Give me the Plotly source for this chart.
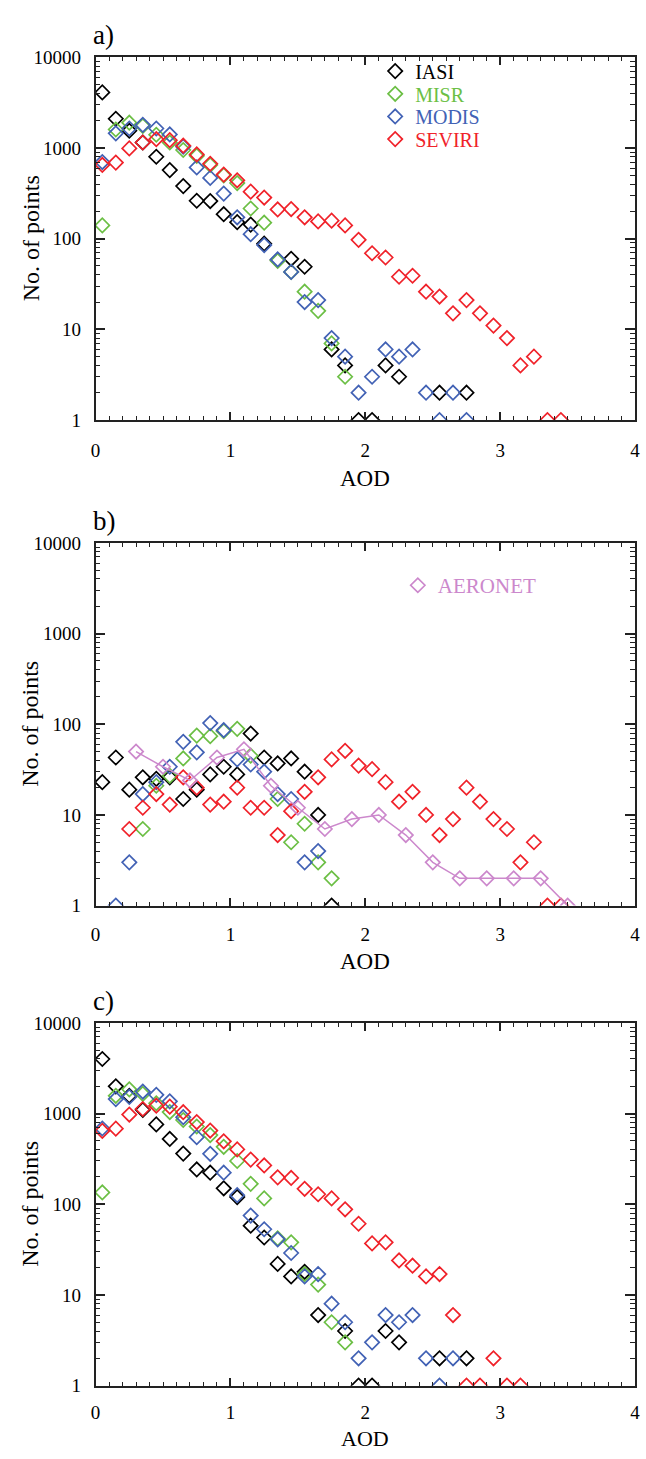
import plotly.graph_objects as go

# ---------------- data ----------------
AOD_BINS = [0.05, 0.15, 0.25, 0.35, 0.45, 0.55, 0.65, 0.75, 0.85, 0.95,
            1.05, 1.15, 1.25, 1.35, 1.45, 1.55, 1.65, 1.75, 1.85, 1.95,
            2.05, 2.15, 2.25, 2.35, 2.45, 2.55, 2.65, 2.75, 2.85, 2.95,
            3.05, 3.15, 3.25, 3.35, 3.45]
N = None

# panel a)
a_iasi = [4100, 2100, 1550, 1150, 800, 570, 380, 262, 260, 186,
          152, 143, 88, 58, 60, 49, N, 6, 4, 1,
          1, 4, 3, N, N, 2, N, 2, N, N, N, N, N, N, N]
a_misr = [140, 1600, 1900, 1750, 1400, 1150, 950, 820, 650, 500,
          410, 215, 150, 57, 43, 26, 16, 7, 3, N,
          N, N, N, N, N, N, N, N, N, N, N, N, N, N, N]
a_modis = [700, 1450, 1640, 1800, 1640, 1410, 1035, 610, 468, 314,
           172, 112, 85, 59, 43, 20, 21, 8, 5, 2,
           3, 6, 5, 6, 2, 1, 2, 1, N, N, N, N, N, N, N]
a_seviri = [650, 690, 990, 1150, 1250, 1220, 1060, 850, 670, 509,
            440, 330, 284, 210, 212, 172, 155, 158, 140, 97,
            69, 62, 38, 39, 26, 23, 15, 21, 15, 11,
            8, 4, 5, 1, 1]

# panel b)
b_iasi = [23, 43, 19, 26, 25, 26, 15, 19, 28, 34,
          28, 79, 43, 37, 42, 30, 10, 1, N, N,
          N, N, N, N, N, N, N, N, N, N, N, N, N, N, N]
b_misr = [N, N, N, 7, 21, 27, 42, 75, 74, 84,
          89, 45, N, 15, 5, 8, 3, 2, N, N,
          N, N, N, N, N, N, N, N, N, N, N, N, N, N, N]
b_modis = [N, 1, 3, 17, 23, 34, 64, 49, 103, 86,
           41, 36, 30, 17, 15, 3, 4, N, N, N,
           N, N, N, N, N, N, N, N, N, N, N, N, N, N, N]
b_seviri = [N, N, 7, 12, 17, 13, 26, 20, 13, 14,
            20, 12, 12, 6, 11, 18, 26, 41, 51, 35,
            32, 23, 14, 18, 10, 6, 9, 20, 14, 9,
            7, 3, 5, 1, 1]
aeronet_x = [0.3, 0.5, 0.7, 0.9, 1.1, 1.3, 1.5, 1.7, 1.9, 2.1,
             2.3, 2.5, 2.7, 2.9, 3.1, 3.3, 3.5]
aeronet_y = [50, 34, 24, 43, 53, 21, 12, 7, 9, 10,
             6, 3, 2, 2, 2, 2, 1]

# panel c)
c_iasi = [4000, 2000, 1570, 1100, 760, 525, 362, 242, 223, 150,
          120, 58, 43, 22, 16, 18, 6, N, 4, 1,
          1, 4, 3, N, N, 2, N, 2, N, N, N, N, N, N, N]
c_misr = [135, 1570, 1850, 1650, 1300, 1040, 850, 720, 580, 430,
          300, 168, 116, 42, 38, 17, 13, 5, 3, N,
          N, N, N, N, N, N, N, N, N, N, N, N, N, N, N]
c_modis = [685, 1445, 1530, 1750, 1610, 1365, 914, 550, 360, 223,
           126, 75, 53, 41, 29, 16, 17, 8, 5, 2,
           3, 6, 5, 6, 2, 1, 2, N, N, N, N, N, N, N, N]
c_seviri = [644, 682, 976, 1124, 1222, 1192, 1036, 807, 650, 495,
            403, 311, 268, 198, 195, 148, 129, 116, 88, 61,
            37, 38, 24, 21, 16, 17, 6, 1, 1, 2,
            1, 1, N, N, N]

SERIES_NAMES = ["IASI", "MISR", "MODIS", "SEVIRI"]
AERONET_NAME = "AERONET"
PANEL_LABELS = ["a)", "b)", "c)"]
X_TITLE = "AOD"
Y_TITLE = "No. of points"
X_TICKS = [0, 1, 2, 3, 4]
X_TICK_LABELS = ["0", "1", "2", "3", "4"]
Y_TICKS = [1, 10, 100, 1000, 10000]
Y_TICK_LABELS = ["1", "10", "100", "1000", "10000"]

# ---------------- style ----------------
W, H = 646, 1459
COLORS = ["#000000", "#6cbf45", "#4262b5", "#f0222a"]
PINK = "#cc88cc"
FONT = "Liberation Serif"

X0, X1 = 92, 640
PANELS = [(48, 416), (540.7, 908.7), (1027.7, 1395.7)]  # (top, bottom) pixels


def py(p):
    return 1 - p / H


def px(p):
    return p / W


fig = go.Figure()

panel_data = [
    [a_iasi, a_misr, a_modis, a_seviri],
    [b_iasi, b_misr, b_modis, b_seviri],
    [c_iasi, c_misr, c_modis, c_seviri],
]
legend_ids = ["legend", "legend2", "legend3", "legend4"]

marker_size = 11
for pi, series in enumerate(panel_data):
    xa = "x" if pi == 0 else f"x{pi+1}"
    ya = "y" if pi == 0 else f"y{pi+1}"
    for si, vals in enumerate(series):
        xs = [x for x, v in zip(AOD_BINS, vals) if v is not None]
        ys = [v for v in vals if v is not None]
        fig.add_trace(go.Scatter(
            x=xs, y=ys, mode="markers", xaxis=xa, yaxis=ya,
            name=SERIES_NAMES[si],
            showlegend=(pi == 0),
            legend=legend_ids[si],
            cliponaxis=True,
            marker=dict(symbol="diamond-open", size=marker_size,
                        color=COLORS[si], line=dict(width=1.7, color=COLORS[si])),
        ))
    if pi == 1:
        fig.add_trace(go.Scatter(
            x=aeronet_x, y=aeronet_y, mode="lines", xaxis=xa, yaxis=ya,
            showlegend=False, line=dict(color=PINK, width=1.5),
        ))
        fig.add_trace(go.Scatter(
            x=aeronet_x, y=aeronet_y, mode="markers", xaxis=xa, yaxis=ya,
            name=AERONET_NAME, legend="legend5", showlegend=True,
            marker=dict(symbol="diamond-open", size=marker_size,
                        color=PINK, line=dict(width=1.7, color=PINK)),
        ))

axis_font = dict(family=FONT, size=19, color="black")
layout = dict(
    width=W, height=H,
    margin=dict(l=0, r=0, t=0, b=0),
    paper_bgcolor="white", plot_bgcolor="white",
    font=dict(family=FONT, color="black"),
)

x_standoff = [12, 11, 9]
for pi, (top, bot) in enumerate(PANELS):
    xk = "xaxis" if pi == 0 else f"xaxis{pi+1}"
    yk = "yaxis" if pi == 0 else f"yaxis{pi+1}"
    ya = "y" if pi == 0 else f"y{pi+1}"
    xa = "x" if pi == 0 else f"x{pi+1}"
    layout[xk] = dict(
        domain=[px(X0), px(X1)], range=[0, 4], anchor=ya,
        tickmode="array", tickvals=X_TICKS, ticktext=X_TICK_LABELS,
        ticks="inside", ticklen=8, tickwidth=1.5, tickcolor="#222",
        mirror="allticks", showline=True, linecolor="#222", linewidth=1.8,
        showgrid=False, zeroline=False, tickfont=axis_font,
        ticklabelstandoff=x_standoff[pi],
        minor=dict(tick0=0, dtick=0.1, ticks="inside", ticklen=4,
                   tickwidth=1.2, tickcolor="#222", showgrid=False),
    )
    layout[yk] = dict(
        domain=[py(bot), py(top)], type="log", range=[0, 4], anchor=xa,
        tickmode="array", tickvals=Y_TICKS, ticktext=Y_TICK_LABELS,
        ticks="inside", ticklen=10, tickwidth=1.5, tickcolor="#222",
        mirror="allticks", showline=True, linecolor="#222", linewidth=1.8,
        showgrid=False, zeroline=False, tickfont=axis_font,
        ticklabelstandoff=9,
        minor=dict(dtick="D1", ticks="inside", ticklen=5,
                   tickwidth=1.2, tickcolor="#222", showgrid=False),
    )

annotations = []
label_y = [25, 518, 1005]
xtitle_top = [462, 952, 1436]
xtitle_size = [23, 23, 22]
for pi, (top, bot) in enumerate(PANELS):
    annotations.append(dict(
        text=PANEL_LABELS[pi], xref="paper", yref="paper",
        x=px(87), y=py(label_y[pi]), xanchor="left", yanchor="middle",
        showarrow=False, font=dict(family=FONT, size=27, color="black")))
    annotations.append(dict(
        text=X_TITLE, xref="paper", yref="paper",
        x=px((X0 + X1) / 2), y=py(xtitle_top[pi]), xanchor="center", yanchor="top",
        borderpad=0,
        showarrow=False, font=dict(family=FONT, size=xtitle_size[pi], color="black")))
    annotations.append(dict(
        text=Y_TITLE, xref="paper", yref="paper", textangle=-90,
        x=px(26), y=py((top + bot) / 2), xanchor="center", yanchor="middle",
        showarrow=False, font=dict(family=FONT, size=24, color="black")))
layout["annotations"] = annotations

leg_rows = [62, 85, 108, 131]
for si, lid in enumerate(legend_ids):
    layout[lid] = dict(
        x=px(376), y=py(leg_rows[si]), xanchor="left", yanchor="middle",
        bgcolor="rgba(0,0,0,0)", borderwidth=0, itemwidth=30,
        font=dict(family=FONT, size=20, color=COLORS[si]),
    )
layout["legend5"] = dict(
    x=px(399), y=py(584), xanchor="left", yanchor="middle",
    bgcolor="rgba(0,0,0,0)", borderwidth=0, itemwidth=30,
    font=dict(family=FONT, size=21, color=PINK),
)

fig.update_layout(**layout)
fig.write_html("out.html")
